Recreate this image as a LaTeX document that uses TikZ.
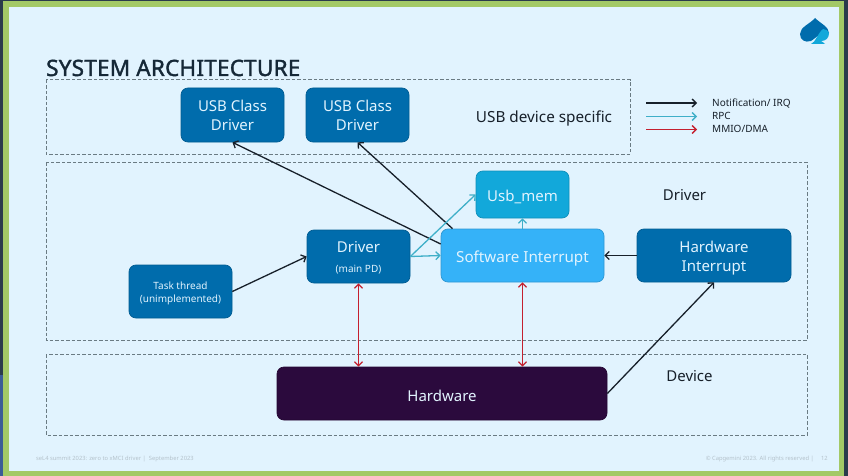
\documentclass[tikz,border=0pt]{standalone}
\usepackage{fontspec}
\setmainfont{Noto Sans}
\usepackage{tikz}
\usetikzlibrary{arrows.meta,positioning}
\definecolor{slidebg}{HTML}{E1F3FE}
\definecolor{slidegreen}{HTML}{A3C966}
\definecolor{slideedge}{HTML}{2B3B4B}
\definecolor{slideleft}{HTML}{3B5C96}
\definecolor{boxblue}{HTML}{006CAC}
\definecolor{boxsky}{HTML}{35B2F8}
\definecolor{boxteal}{HTML}{12A8DA}
\definecolor{boxdark}{HTML}{2B0A3D}
\definecolor{boxtext}{HTML}{E1F3FE}
\definecolor{linecyan}{HTML}{3FAFC8}
\definecolor{linered}{HTML}{C4202F}
\definecolor{linegray}{HTML}{6A7B83}
\definecolor{inkdark}{HTML}{17202A}
\definecolor{footgray}{HTML}{B4C2CB}
\newfontfamily\titlefont[FakeBold=1.6,LetterSpace=1]{Noto Sans}
\newcommand{\droplines}[2]{\raisebox{#1}[0pt][0pt]{\begin{tabular}{@{}c@{}}#2\end{tabular}}}
\tikzset{
  groupbox/.style={draw=linegray,line width=1pt,dash pattern=on 3.5pt off 2pt},
  block/.style={draw=#1!85!black,fill=#1,rounded corners=7pt,line width=0.7pt,text=boxtext,align=center,inner sep=0pt},
  drop/.style={execute at begin node={\rule{0pt}{#1}}},
  barb/.style={-{Straight Barb[length=4pt,width=8pt]},line width=1.3pt},
  twobarb/.style={{Straight Barb[length=4pt,width=8pt]}-{Straight Barb[length=4pt,width=8pt]},line width=1.3pt,linered},
  notif/.style={barb,inkdark},
  rpc/.style={barb,linecyan},
  mmio/.style={barb,linered}
}
\begin{document}
\begin{tikzpicture}[x=1pt,y=-1pt]
\useasboundingbox (0,0) rectangle (848,476);
% slide frame
\fill[slideedge] (0,0) rectangle (848,476);
\fill[slideleft] (0,375) rectangle (3,476);
\fill[slidegreen] (3,1) rectangle (844,476);
\fill[slidebg] (9,7) rectangle (839,471);
% logo
\fill[boxblue] (815,18) .. controls (810,24) and (800,27) .. (800,34) .. controls (800,40) and (805,43) .. (811,41) .. controls (815,39) and (818,33) .. (829,33) .. controls (829,27) and (820,23) .. (815,18) -- cycle;
\fill[boxteal] (829,33) .. controls (829,38) and (826,41) .. (821,41) .. controls (823,42) and (824,43) .. (825,44) -- (811,44) .. controls (816,42) and (817,34) .. (823,29) .. controls (826,29) and (828,31) .. (829,33) -- cycle;
% title
\node[anchor=base west,inner sep=0pt,font=\fontsize{22.5}{25}\titlefont,text=inkdark!90!boxblue] (title) at (46,76) {SYSTEM ARCHITECTURE};
% dashed groups
\draw[groupbox] (46,80) rectangle (630,154);
\draw[groupbox] (46,162) rectangle (807,340);
\draw[groupbox] (46,354) rectangle (807,435);
% blocks
\node[block=boxblue,minimum width=103pt,minimum height=54pt,font=\fontsize{15}{19}\selectfont] (usbone) at (232.5,115) {\droplines{-5.75pt}{USB Class\\Driver}};
\node[block=boxblue,minimum width=103pt,minimum height=54pt,font=\fontsize{15}{19}\selectfont] (usbtwo) at (357.5,115) {\droplines{-5.75pt}{USB Class\\Driver}};
\node[block=boxteal,drop=15.5pt,minimum width=93pt,minimum height=47pt,font=\fontsize{15}{18}\selectfont] (usbmem) at (522.5,194.5) {Usb\_mem};
\node[block=boxsky,drop=18.5pt,minimum width=163pt,minimum height=53pt,font=\fontsize{15.2}{18}\selectfont] (swirq) at (522.5,255.5) {Software Interrupt};
\node[block=boxblue,minimum width=154pt,minimum height=53pt,font=\fontsize{15}{19}\selectfont] (hwirq) at (714,255.5) {\droplines{-6.25pt}{Hardware\\Interrupt}};
\node[block=boxblue,minimum width=103pt,minimum height=53pt,font=\fontsize{15}{18}\selectfont] (driver) at (358.5,256.5) {\droplines{-6pt}{Driver\\[2pt]{\fontsize{10}{12}\selectfont (main PD)}}};
\node[block=boxblue,minimum width=103pt,minimum height=53pt,font=\fontsize{10}{13}\selectfont] (task) at (180.5,291.5) {\droplines{-4pt}{Task thread\\(unimplemented)}};
\node[block=boxdark,drop=15.5pt,minimum width=330pt,minimum height=53pt,font=\fontsize{15}{18}\selectfont] (hardware) at (442,393.5) {Hardware};
% group labels
\node[inner sep=0pt,text=inkdark,font=\fontsize{15.3}{18}\selectfont] (usblabel) at (544,118) {USB device specific};
\node[inner sep=0pt,text=inkdark,font=\fontsize{15}{18}\selectfont] (drvlabel) at (684.5,195) {Driver};
\node[inner sep=0pt,text=inkdark,font=\fontsize{15}{18}\selectfont] (devlabel) at (689.5,376) {Device};
% connectors
\draw[notif] (swirq.172) -- (usbone.south);
\draw[notif] (swirq.159) -- (usbtwo.south);
\draw[notif] (task.east) -- (driver.west);
\draw[notif] (hwirq.west) -- (swirq.east);
\draw[notif] (hardware.east) -- (hwirq.south);
\draw[rpc] (driver.east) -- (usbmem.west);
\draw[rpc] (driver.east) -- (swirq.west);
\draw[rpc] (swirq.north) -- (usbmem.south);
\draw[twobarb] (driver.south) -- (driver.south |- hardware.north);
\draw[twobarb] (swirq.south) -- (swirq.south |- hardware.north);
% legend
\foreach \name/\ypos/\kind/\texty/\txt in {a/103/notif/104/{Notification/ IRQ},b/116.5/rpc/116/{RPC},c/129.5/mmio/128.5/{MMIO/DMA}} {
  \coordinate (leg\name) at (646,\ypos);
  \coordinate (end\name) at (697,\ypos);
  \draw[\kind] (leg\name) -- (end\name);
  \node[anchor=west,inner sep=0pt,text=inkdark,font=\fontsize{10}{12}\selectfont] (legtext\name) at (712,\texty) {\txt};
}
% footer
\node[anchor=west,inner sep=0pt,text=footgray,font=\fontsize{5.8}{7}\selectfont] (footleft) at (36,458.5) {seL4 summit 2023: zero to xMCI driver | \ September 2023};
\node[anchor=east,inner sep=0pt,text=footgray,font=\fontsize{5.8}{7}\selectfont] (footright) at (828,458.5) {© Capgemini 2023. All rights reserved | \quad 12};
\end{tikzpicture}
\end{document}
